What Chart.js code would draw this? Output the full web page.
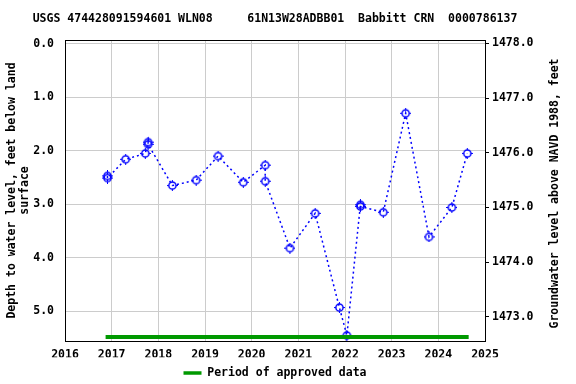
<!DOCTYPE html>
<html>
<head>
<meta charset="utf-8">
<script src="https://cdn.jsdelivr.net/npm/chart.js@4.4.1/dist/chart.umd.min.js"></script>
<style>
  html, body { margin: 0; padding: 0; background: #fff; }
</style>
</head>
<body>
<canvas id="gwChart" width="576" height="384"></canvas>
<script>
// field measurements: decimal year and depth to water (ft below land surface)
var sampleDates = [2016.91, 2016.91, 2017.30, 2017.72, 2017.78, 2017.78, 2018.30, 2018.81,
                   2019.28, 2019.82, 2020.29, 2020.29, 2020.82, 2021.36, 2021.88, 2022.04,
                   2022.33, 2022.33, 2022.82, 2023.30, 2023.80, 2024.29, 2024.62];
var depthValues = [2.47, 2.51, 2.16, 2.05, 1.84, 1.88, 2.65, 2.55,
                   2.10, 2.59, 2.27, 2.57, 3.82, 3.17, 4.93, 5.45,
                   3.01, 3.04, 3.15, 1.30, 3.61, 3.06, 2.05];

// period of approved data (start, end) drawn along the bottom
var approvedDates = [2016.87, 2024.65];
var approvedDepth = [5.48, 5.48];

var yearTicks = [2016, 2017, 2018, 2019, 2020, 2021, 2022, 2023, 2024, 2025];
var depthTicks = [0, 1, 2, 3, 4, 5];
var elevTicks = [1473, 1474, 1475, 1476, 1477, 1478];

var titleText = 'USGS 474428091594601 WLN08     61N13W28ADBB01  Babbitt CRN  0000786137';
var blue = '#0000ff';
var green = '#009900';

Chart.defaults.font.family = "'DejaVu Sans Mono', monospace";
Chart.defaults.font.size = 11.5;
Chart.defaults.font.weight = 'bold';
Chart.defaults.color = '#000';

// open circle with little notches, like the usgs marker
function makeMarker() {
    var c = document.createElement('canvas');
    c.width = 11;
    c.height = 11;
    var g = c.getContext('2d');
    g.strokeStyle = blue;
    g.lineWidth = 1.5;
    g.beginPath();
    g.arc(5.5, 5.5, 3.6, 0, Math.PI * 2);
    g.stroke();
    g.lineWidth = 1;
    g.beginPath();
    g.moveTo(5.5, 0); g.lineTo(5.5, 2);
    g.moveTo(5.5, 9); g.lineTo(5.5, 11);
    g.moveTo(0, 5.5); g.lineTo(2, 5.5);
    g.moveTo(9, 5.5); g.lineTo(11, 5.5);
    g.stroke();
    return c;
}

function toPoints(xs, ys) {
    var pts = [];
    for (var i = 0; i < xs.length; i++) {
        pts.push({x: xs[i], y: ys[i]});
    }
    return pts;
}

function fixedTicks(list) {
    return function(scale) {
        scale.ticks = list.map(function(v) { return {value: v}; });
    };
}

// box around the plot and the right-hand axis title (reads bottom to top)
var frame = {
    id: 'frame',
    afterDraw: function(chart) {
        var a = chart.chartArea;
        var ctx = chart.ctx;
        ctx.save();
        ctx.strokeStyle = '#000';
        ctx.lineWidth = 1;
        ctx.strokeRect(a.left + 0.5, a.top + 0.5, a.right - a.left, a.bottom - a.top);
        ctx.translate(555, (a.top + a.bottom) / 2 + 3);
        ctx.rotate(-Math.PI / 2);
        ctx.font = "bold 11.5px 'DejaVu Sans Mono', monospace";
        ctx.fillStyle = '#000';
        ctx.textAlign = 'center';
        ctx.textBaseline = 'middle';
        ctx.fillText('Groundwater level above NAVD 1988, feet', 0, 0);
        ctx.restore();
    }
};

var ctx = document.getElementById('gwChart');
var chart = new Chart(ctx, {
    type: 'line',
    data: {
        datasets: [{
            label: 'Period of approved data',
            data: toPoints(approvedDates, approvedDepth),
            borderColor: green,
            backgroundColor: green,
            borderWidth: 4,
            borderCapStyle: 'butt',
            pointRadius: 0,
            yAxisID: 'yDepth'
        }, {
            label: 'Depth to water',
            data: toPoints(sampleDates, depthValues),
            borderColor: blue,
            backgroundColor: 'rgba(0,0,0,0)',
            borderWidth: 1.5,
            borderDash: [2, 3],
            tension: 0,
            fill: false,
            pointStyle: makeMarker(),
            pointRadius: 4,
            yAxisID: 'yDepth'
        }]
    },
    options: {
        responsive: false,
        animation: false,
        layout: {padding: {left: 0, right: 26, top: 0, bottom: -4.75}},
        plugins: {
            tooltip: {enabled: false},
            title: {
                display: true,
                text: titleText,
                padding: {top: 12, bottom: 14.2}
            },
            legend: {
                position: 'bottom',
                labels: {
                    boxWidth: 18,
                    boxHeight: 3.5,
                    padding: 10,
                    generateLabels: function(chart) {
                        var items = Chart.defaults.plugins.legend.labels.generateLabels(chart);
                        return items.filter(function(it) { return it.datasetIndex === 0; })
                            .map(function(it) {
                                it.lineWidth = 0;
                                it.fillStyle = green;
                                return it;
                            });
                    }
                }
            }
        },
        scales: {
            x: {
                type: 'linear',
                position: 'bottom',
                min: 2016,
                max: 2025,
                afterBuildTicks: fixedTicks(yearTicks),
                afterFit: function(s) { s.height = 16.25; },
                ticks: {
                    padding: 7,
                    maxRotation: 0,
                    autoSkip: false,
                    callback: function(v) { return String(v); }
                },
                grid: {color: '#cccccc', drawTicks: false},
                border: {color: '#000'}
            },
            yDepth: {
                type: 'linear',
                position: 'left',
                reverse: true,
                min: -0.069,
                max: 5.555,
                afterBuildTicks: fixedTicks(depthTicks),
                afterFit: function(s) { s.width = 65; },
                ticks: {
                    padding: 11,
                    callback: function(v) { return v.toFixed(1); }
                },
                grid: {color: '#cccccc', drawTicks: false},
                border: {color: '#000'},
                title: {
                    display: true,
                    text: ['Depth to water level, feet below land', 'surface'],
                    padding: {top: 5, bottom: 0},
                    font: {lineHeight: 1.15}
                }
            },
            yElev: {
                type: 'linear',
                position: 'right',
                min: 1472.56,
                max: 1478.06,
                afterBuildTicks: fixedTicks(elevTicks),
                afterFit: function(s) { s.width = 65; },
                ticks: {
                    padding: 3,
                    callback: function(v) { return v.toFixed(1); }
                },
                grid: {drawOnChartArea: false, drawTicks: true, tickLength: 4, color: '#000'},
                border: {color: '#000'}
            }
        }
    },
    plugins: [frame]
});
</script>
</body>
</html>
